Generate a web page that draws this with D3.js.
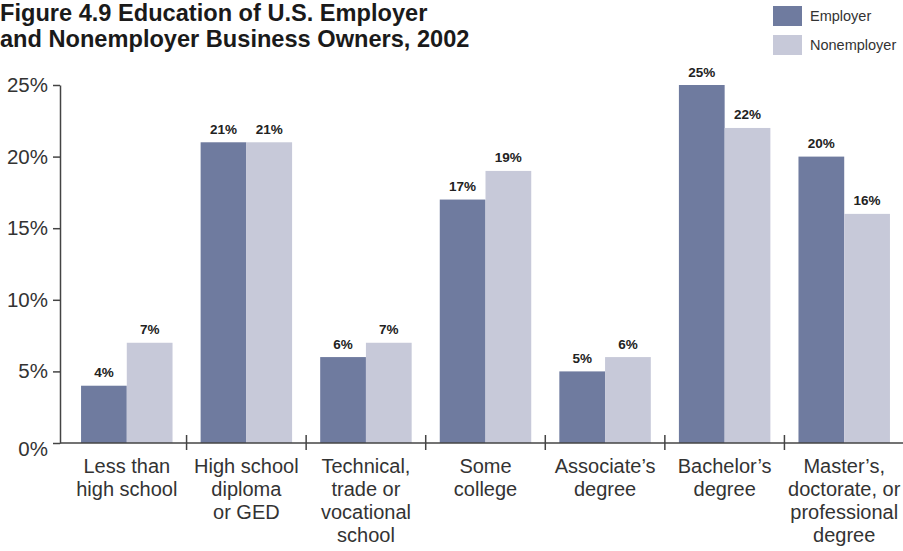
<!DOCTYPE html>
<html>
<head>
<meta charset="utf-8">
<script src="https://cdn.jsdelivr.net/npm/d3@7/dist/d3.min.js"></script>
<style>
  html, body { margin: 0; padding: 0; background: #fff; }
  svg { display: block; font-family: "Liberation Sans", Arial, Helvetica, sans-serif; }
</style>
</head>
<body>
<svg id="chart" width="903" height="551"></svg>
<script>
// Education level of business owners (share of owners, %)
const categories = [
  ["Less than", "high school"],
  ["High school", "diploma", "or GED"],
  ["Technical,", "trade or", "vocational", "school"],
  ["Some", "college"],
  ["Associate’s", "degree"],
  ["Bachelor’s", "degree"],
  ["Master’s,", "doctorate, or", "professional", "degree"]
];
const seriesNames = ["Employer", "Nonemployer"];
const employer    = [4, 21, 6, 17, 5, 25, 20];
const nonemployer = [7, 21, 7, 19, 6, 22, 16];
const yTicks = [0, 5, 10, 15, 20, 25];
const titleLines = ["Figure 4.9 Education of U.S. Employer", "and Nonemployer Business Owners, 2002"];

const colors = { Employer: "#6f7b9f", Nonemployer: "#c7c9d9" };
const ink = "#333";

const svg = d3.select("#chart");
const W = 903;
const axisX = 60, y0 = 443, yTop = 85;

const rows = categories.map((c, i) => ({
  key: c.join(" "), lines: c,
  values: [{ s: "Employer", v: employer[i] }, { s: "Nonemployer", v: nonemployer[i] }]
}));

const x = d3.scaleBand()
  .domain(rows.map(r => r.key))
  .range([67, 904])
  .paddingInner(0.235)
  .paddingOuter(0.1175);

const xs = d3.scaleBand().domain(seriesNames).range([0, x.bandwidth()]);

const y = d3.scaleLinear().domain([0, 25]).range([y0, yTop]);

// Title
svg.append("text")
  .attr("x", 0).attr("y", 21)
  .attr("font-size", 23.6).attr("font-weight", "bold").attr("fill", "#1a1a1a")
  .selectAll("tspan").data(titleLines).join("tspan")
  .attr("x", 0).attr("dy", (d, i) => i ? 26 : 0)
  .text(d => d);

// Legend
const legend = svg.append("g");
seriesNames.forEach((s, i) => {
  const g = legend.append("g").attr("transform", `translate(773, ${6 + i * 29})`);
  g.append("rect").attr("width", 29).attr("height", 20).attr("fill", colors[s]);
  g.append("text").attr("x", 37).attr("y", 15)
    .attr("font-size", 14.5).attr("fill", ink).text(s);
});

// Bars
const groups = svg.append("g").selectAll("g").data(rows).join("g")
  .attr("transform", d => `translate(${x(d.key)},0)`);

groups.selectAll("rect").data(d => d.values).join("rect")
  .attr("x", d => xs(d.s))
  .attr("y", d => y(d.v))
  .attr("width", xs.bandwidth())
  .attr("height", d => y(0) - y(d.v))
  .attr("fill", d => colors[d.s]);

// Value labels
groups.selectAll("text.val").data(d => d.values).join("text")
  .attr("class", "val")
  .attr("x", d => xs(d.s) + xs.bandwidth() / 2)
  .attr("y", d => y(d.v) - 8.5)
  .attr("text-anchor", "middle")
  .attr("font-size", 13.5).attr("font-weight", "bold").attr("fill", "#222")
  .text(d => d.v + "%");

// Y axis
const yAxis = svg.append("g")
  .attr("transform", `translate(${axisX},0)`)
  .call(d3.axisLeft(y).tickValues(yTicks).tickSize(7).tickSizeOuter(0).tickPadding(5)
    .tickFormat(d => d + "%"));
yAxis.select(".domain").attr("stroke", "#444").attr("stroke-width", 1.5);
yAxis.selectAll(".tick line").attr("stroke", "#444").attr("stroke-width", 1.5);
yAxis.selectAll(".tick text")
  .attr("font-size", 20.5).attr("fill", ink)
  .attr("font-family", "\"Liberation Sans\", Arial, sans-serif");
yAxis.selectAll(".tick").filter(d => d === 0).select("text").attr("dy", "0.62em");

// X axis baseline
svg.append("line")
  .attr("x1", axisX).attr("x2", W)
  .attr("y1", y0).attr("y2", y0)
  .attr("stroke", "#444").attr("stroke-width", 1.5);

// Category separators
const seps = rows.slice(0, -1).map(r => x(r.key) + x.bandwidth() + x.step() * x.paddingInner() / 2);
svg.append("g").selectAll("line").data(seps).join("line")
  .attr("x1", d => d).attr("x2", d => d)
  .attr("y1", y0 - 8).attr("y2", y0 + 7)
  .attr("stroke", "#444").attr("stroke-width", 1.5);

// Category labels
svg.append("g").selectAll("text").data(rows).join("text")
  .attr("text-anchor", "middle")
  .attr("font-size", 20).attr("fill", ink)
  .attr("transform", d => `translate(${x(d.key) + x.bandwidth() / 2}, 473)`)
  .selectAll("tspan").data(d => d.lines).join("tspan")
  .attr("x", 0).attr("y", (d, i) => i * 23)
  .text(d => d);
</script>
</body>
</html>
